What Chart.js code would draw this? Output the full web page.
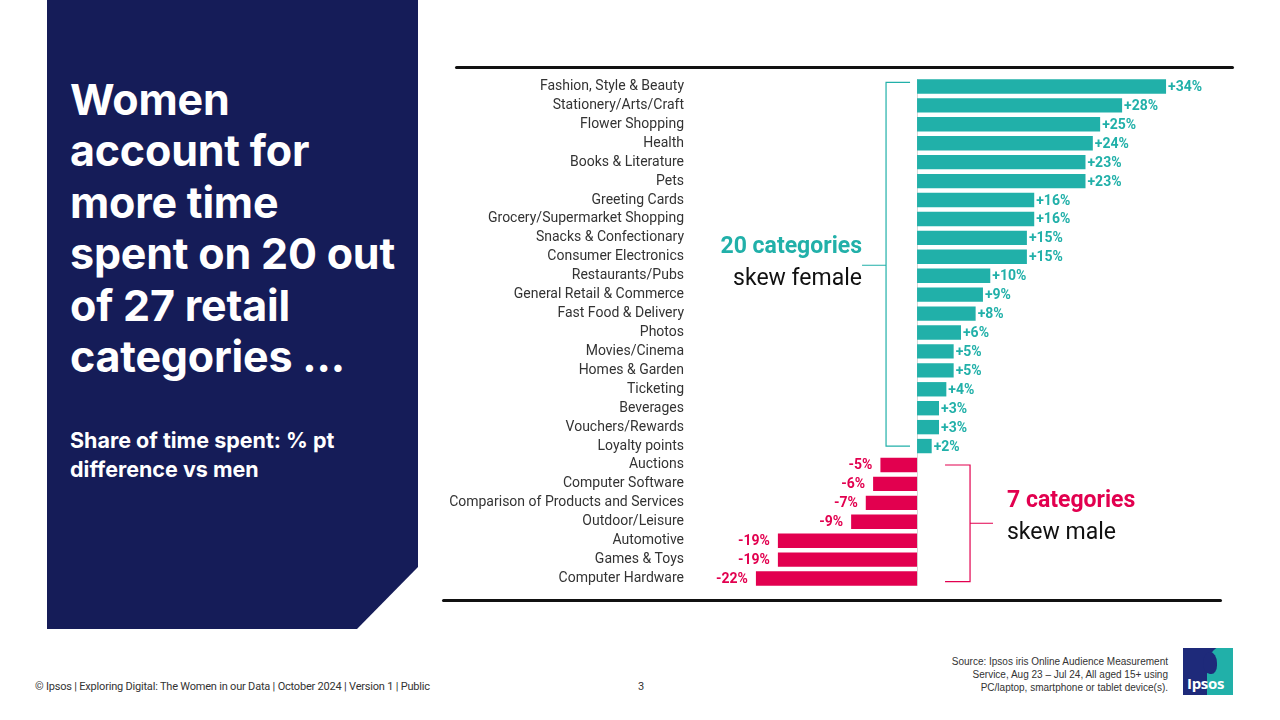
<!DOCTYPE html>
<html>
<head>
<meta charset="utf-8">
<script src="https://cdn.jsdelivr.net/npm/chart.js@4.4.1/dist/chart.umd.min.js"></script>
<style>
  html, body { margin: 0; padding: 0; background: #fff; }
  body { width: 1280px; height: 720px; position: relative; overflow: hidden; font-family: Roboto, "Open Sans", sans-serif; }
  .panel {
    position: absolute; left: 47px; top: 0; width: 371px; height: 629px; background: #151c58;
    clip-path: polygon(0 0, 371px 0, 371px 567px, 310px 629px, 0 629px);
  }
  .title {
    position: absolute; left: 70px; top: 74px; width: 345px; color: #fff; white-space: nowrap;
    font-family: Inter, sans-serif; font-weight: 700; font-size: 43px; line-height: 51.4px; letter-spacing: -0.2px;
  }
  .subtitle {
    position: absolute; left: 70px; top: 426px; width: 330px; color: #fff; white-space: nowrap;
    font-family: Inter, sans-serif; font-weight: 700; font-size: 21.5px; line-height: 29px;
  }
  .rule { position: absolute; height: 3px; background: #111; border-radius: 2px; }
  #wrap { position: absolute; left: 440px; top: 77px; width: 800px; height: 511px; }
  .note { position: absolute; font-size: 23px; line-height: 28px; white-space: nowrap; }
  .note b { font-weight: 700; }
  .footer { position: absolute; top: 680px; font-size: 11px; color: #333; font-family: Roboto, sans-serif; letter-spacing: -0.2px; }
  .source { position: absolute; right: 112px; top: 655px; text-align: right; font-family: "Liberation Sans", Arial, sans-serif; font-size: 10px; line-height: 13px; color: #333; }
  .logo { position: absolute; left: 1183px; top: 648px; width: 50px; height: 47px; background: #1e2a7a; overflow: hidden; }
  .logo .teal { position: absolute; left: 24px; top: -4px; width: 40px; height: 56px; background: #21b0a9; border-radius: 22px 0 0 0; }
  .logo .head { position: absolute; left: 20px; top: 4px; width: 14px; height: 22px; background: #1e2a7a; border-radius: 50% 50% 40% 50%; }
  .logo span { position: absolute; left: 4px; top: 25px; color: #fff; font-family: "Open Sans", sans-serif; font-weight: 700; font-size: 15px; letter-spacing: -0.3px; }
</style>
</head>
<body>
<div class="panel"></div>
<div class="title">Women<br>account for<br>more time<br>spent on 20 out<br>of 27 retail<br>categories ...</div>
<div class="subtitle">Share of time spent: % pt<br>difference vs men</div>

<div class="rule" style="left:455px; top:66px; width:779px;"></div>
<div class="rule" style="left:442px; top:599px; width:780px;"></div>

<div id="wrap"><canvas id="chart" width="800" height="511"></canvas></div>

<div class="note" style="right:418px; top:232px; text-align:right; color:#21b0a9;"><b>20 categories</b></div>
<div class="note" style="right:418px; top:264px; text-align:right; color:#111;">skew female</div>
<div class="note" style="left:1007px; top:486px; color:#e2004f;"><b>7 categories</b></div>
<div class="note" style="left:1007px; top:518px; color:#111;">skew male</div>

<div class="footer" style="left:35px;">© Ipsos | Exploring Digital: The Women in our Data | October 2024 | Version 1 | Public</div>
<div class="footer" style="left:638px;">3</div>
<div class="source">Source: Ipsos iris Online Audience Measurement<br>Service, Aug 23 – Jul 24, All aged 15+ using<br>PC/laptop, smartphone or tablet device(s).</div>
<div class="logo"><div class="teal"></div><div class="head"></div><span>Ipsos</span></div>

<script>
const categories = [
  'Fashion, Style & Beauty', 'Stationery/Arts/Craft', 'Flower Shopping', 'Health',
  'Books & Literature', 'Pets', 'Greeting Cards', 'Grocery/Supermarket Shopping',
  'Snacks & Confectionary', 'Consumer Electronics', 'Restaurants/Pubs',
  'General Retail & Commerce', 'Fast Food & Delivery', 'Photos', 'Movies/Cinema',
  'Homes & Garden', 'Ticketing', 'Beverages', 'Vouchers/Rewards', 'Loyalty points',
  'Auctions', 'Computer Software', 'Comparison of Products and Services',
  'Outdoor/Leisure', 'Automotive', 'Games & Toys', 'Computer Hardware'
];
const diffVsMen = [34, 28, 25, 24, 23, 23, 16, 16, 15, 15, 10, 9, 8, 6, 5, 5, 4, 3, 3, 2,
  -5, -6, -7, -9, -19, -19, -22];
const femaleCount = 20;

const TEAL = '#21b0a9';
const RED = '#e2004f';

// value labels at the bar ends
const valueLabels = {
  id: 'valueLabels',
  afterDatasetsDraw(chart) {
    const ctx = chart.ctx;
    const meta = chart.getDatasetMeta(0);
    ctx.save();
    ctx.font = 'bold 14px Roboto';
    ctx.textBaseline = 'middle';
    meta.data.forEach((bar, i) => {
      const v = diffVsMen[i];
      if (v >= 0) {
        ctx.fillStyle = TEAL;
        ctx.textAlign = 'left';
        ctx.fillText('+' + v + '%', bar.x + 2, bar.y + 1);
      } else {
        ctx.fillStyle = RED;
        ctx.textAlign = 'right';
        ctx.fillText(v + '%', bar.x - 8, bar.y + 1);
      }
    });
    ctx.restore();
  }
};

// zero line and the two brackets
const decorations = {
  id: 'decorations',
  beforeDatasetsDraw(chart) {
    const { ctx, chartArea, scales } = chart;
    const x0 = scales.x.getPixelForValue(0);
    ctx.save();
    ctx.strokeStyle = '#d6d6d6';
    ctx.lineWidth = 1;
    ctx.beginPath();
    ctx.moveTo(Math.round(x0) + 0.5, chartArea.top + 2);
    ctx.lineTo(Math.round(x0) + 0.5, chartArea.bottom - 2);
    ctx.stroke();
    ctx.restore();
  },
  afterDatasetsDraw(chart) {
    const { ctx, scales } = chart;
    const x0 = scales.x.getPixelForValue(0);
    const y = scales.y;
    ctx.save();
    ctx.lineWidth = 1.2;

    // female bracket
    let top = y.getPixelForValue(0) - 4;
    let bot = y.getPixelForValue(femaleCount - 1);
    let vx = x0 - 31;
    ctx.strokeStyle = TEAL;
    ctx.beginPath();
    ctx.moveTo(x0 - 7, top); ctx.lineTo(vx, top); ctx.lineTo(vx, bot); ctx.lineTo(x0 - 7, bot);
    ctx.moveTo(vx, (top + bot) / 2 + 1); ctx.lineTo(vx - 24, (top + bot) / 2 + 1);
    ctx.stroke();

    // male bracket
    top = y.getPixelForValue(femaleCount);
    bot = y.getPixelForValue(categories.length - 1) + 3;
    vx = x0 + 53;
    ctx.strokeStyle = RED;
    ctx.beginPath();
    ctx.moveTo(x0 + 28, top); ctx.lineTo(vx, top); ctx.lineTo(vx, bot); ctx.lineTo(x0 + 28, bot);
    ctx.moveTo(vx, (top + bot) / 2); ctx.lineTo(vx + 23, (top + bot) / 2);
    ctx.stroke();
    ctx.restore();
  }
};

new Chart(document.getElementById('chart').getContext('2d'), {
  type: 'bar',
  data: {
    labels: categories,
    datasets: [{
      data: diffVsMen,
      backgroundColor: diffVsMen.map((v) => (v >= 0 ? TEAL : RED)),
      borderWidth: 0,
      barPercentage: 0.76,
      categoryPercentage: 1,
    }],
  },
  options: {
    indexAxis: 'y',
    responsive: false,
    animation: false,
    layout: { padding: { top: 0, bottom: 0, left: 0, right: 30 } },
    plugins: { legend: { display: false }, tooltip: { enabled: false } },
    scales: {
      x: { min: -31, max: 40, display: false },
      y: {
        grid: { display: false, drawTicks: false },
        border: { display: false },
        ticks: { color: '#333', font: { family: 'Roboto', size: 14 }, padding: 6, autoSkip: false },
        afterFit(scale) {
          scale.width = 250;
          scale.paddingTop = 0;
          scale.paddingBottom = 0;
        },
      },
    },
  },
  plugins: [decorations, valueLabels],
});
</script>
</body>
</html>
